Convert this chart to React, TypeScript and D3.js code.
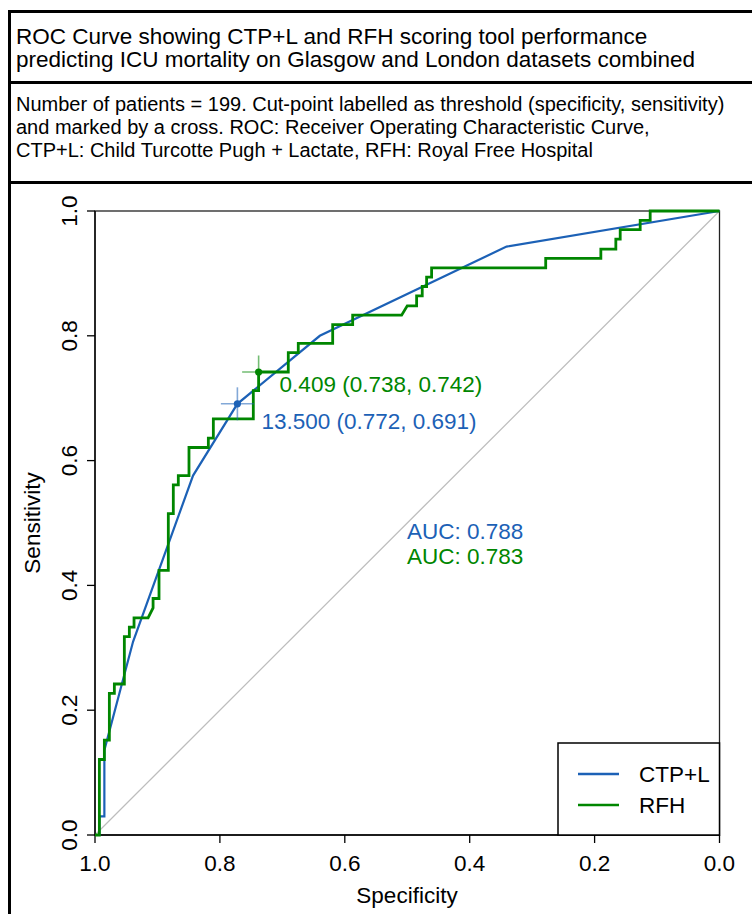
import React from "react";
import * as d3 from "d3";

const titleLines = [
  "ROC Curve showing CTP+L and RFH scoring tool performance",
  "predicting ICU mortality on Glasgow and London datasets combined",
];
const subtitleLines = [
  "Number of patients = 199. Cut-point labelled as threshold (specificity, sensitivity)",
  "and marked by a cross. ROC: Receiver Operating Characteristic Curve,",
  "CTP+L: Child Turcotte Pugh + Lactate, RFH: Royal Free Hospital",
];

const ticks = [0, 0.2, 0.4, 0.6, 0.8, 1.0];

// CTP+L curve (specificity, sensitivity)
const ctpSpec = [1, 0.993, 0.993, 0.985, 0.985, 0.939, 0.843, 0.772, 0.64, 0.341, 0];
const ctpSens = [0, 0, 0.03, 0.03, 0.136, 0.31, 0.576, 0.691, 0.8, 0.943, 1];

// RFH curve (specificity, sensitivity)
const rfhSpec = [
  1, 0.993, 0.993, 0.985, 0.985, 0.977, 0.977, 0.969, 0.969, 0.953, 0.953, 0.945, 0.945,
  0.9375, 0.9375, 0.915, 0.907, 0.907, 0.8975, 0.8975, 0.8826, 0.8826, 0.8746, 0.8746,
  0.8666, 0.8666, 0.8495, 0.8495, 0.8185, 0.8185, 0.8105, 0.8105, 0.7465, 0.7465, 0.738,
  0.738, 0.6905, 0.6905, 0.6745, 0.6745, 0.6194, 0.6194, 0.5874, 0.5874, 0.509, 0.5,
  0.485, 0.485, 0.476, 0.476, 0.469, 0.469, 0.461, 0.461, 0.2783, 0.2783, 0.19, 0.19,
  0.166, 0.166, 0.159, 0.159, 0.127, 0.127, 0.111, 0.111, 0,
];
const rfhSens = [
  0, 0, 0.121, 0.121, 0.152, 0.152, 0.227, 0.227, 0.242, 0.242, 0.318, 0.318, 0.333,
  0.333, 0.348, 0.348, 0.364, 0.379, 0.379, 0.424, 0.424, 0.515, 0.515, 0.561, 0.561,
  0.576, 0.576, 0.621, 0.621, 0.636, 0.636, 0.667, 0.667, 0.712, 0.712, 0.742, 0.742,
  0.773, 0.773, 0.788, 0.788, 0.818, 0.818, 0.833, 0.833, 0.848, 0.848, 0.864, 0.864,
  0.879, 0.879, 0.894, 0.894, 0.909, 0.909, 0.924, 0.924, 0.939, 0.939, 0.955, 0.955,
  0.97, 0.97, 0.985, 0.985, 1, 1,
];

const thresholds = [
  { name: "CTP+L", thr: "13.500", spec: 0.772, sens: 0.691, auc: "0.788", color: "#1c61b6", dx: 24, dy: 25, width: 2 },
  { name: "RFH", thr: "0.409", spec: 0.738, sens: 0.742, auc: "0.783", color: "#008600", dx: 21, dy: 20, width: 2.7 },
];

const FONT = "'Liberation Sans', Arial, Helvetica, sans-serif";

export default function App() {
  const W = 752, H = 914;
  const x = d3.scaleLinear().domain([1, 0]).range([95, 719.5]);
  const y = d3.scaleLinear().domain([0, 1]).range([835, 211]);
  const fmt = d3.format(".1f");

  const line = d3
    .line<[number, number]>()
    .x((d) => x(d[0]))
    .y((d) => y(d[1]));

  const ctpPts: [number, number][] = ctpSpec.map((s, i) => [s, ctpSens[i]]);
  const rfhPts: [number, number][] = rfhSpec.map((s, i) => [s, rfhSens[i]]);

  const cs = 16.5;

  return (
    <svg
      width={W}
      height={H}
      viewBox={`0 0 ${W} ${H}`}
      style={{ position: "absolute", left: 0, top: 0, display: "block", background: "#fff" }}
      fontFamily={FONT}
    >
      <rect x={0} y={0} width={W} height={H} fill="#fff" />
      {/* frames */}
      <rect x={9.5} y={11.5} width={W + 20} height={H + 20} fill="none" stroke="#000" strokeWidth={3} />
      <line x1={8} x2={W} y1={82.5} y2={82.5} stroke="#000" strokeWidth={3} />
      <line x1={8} x2={W} y1={182.5} y2={182.5} stroke="#000" strokeWidth={3} />

      {titleLines.map((t, i) => (
        <text key={t} x={16} y={44 + i * 23} fontSize={22.5} fill="#000">
          {t}
        </text>
      ))}
      {subtitleLines.map((t, i) => (
        <text key={t} x={16} y={111 + i * 23} fontSize={20} fill="#000">
          {t}
        </text>
      ))}

      {/* diagonal */}
      <line x1={x(1)} y1={y(0)} x2={x(0)} y2={y(1)} stroke="#bdbdbd" strokeWidth={1.3} />

      {/* plot box */}
      <rect x={x(1)} y={y(1)} width={x(0) - x(1)} height={y(0) - y(1)} fill="none" stroke="#222" strokeWidth={1.3} />

      {/* x axis */}
      <line x1={x(1)} x2={x(0)} y1={y(0)} y2={y(0)} stroke="#000" strokeWidth={1.3} />
      {ticks.map((t) => (
        <g key={"x" + t}>
          <line x1={x(t)} x2={x(t)} y1={y(0)} y2={y(0) + 8} stroke="#000" strokeWidth={1.3} />
          <text x={x(t)} y={871} fontSize={22.5} textAnchor="middle" fill="#000">
            {fmt(t)}
          </text>
        </g>
      ))}
      <text x={407} y={903} fontSize={22.5} textAnchor="middle" fill="#000">
        Specificity
      </text>

      {/* y axis */}
      <line x1={x(1)} x2={x(1)} y1={y(0)} y2={y(1)} stroke="#000" strokeWidth={1.3} />
      {ticks.map((t) => (
        <g key={"y" + t}>
          <line x1={x(1) - 8} x2={x(1)} y1={y(t)} y2={y(t)} stroke="#000" strokeWidth={1.3} />
          <text
            transform={`translate(${77},${y(t)}) rotate(-90)`}
            fontSize={22.5}
            textAnchor="middle"
            fill="#000"
          >
            {fmt(t)}
          </text>
        </g>
      ))}
      <text transform={`translate(${40},${523}) rotate(-90)`} fontSize={22.5} textAnchor="middle" fill="#000">
        Sensitivity
      </text>

      {/* curves */}
      <path d={line(ctpPts) || ""} fill="none" stroke="#1c61b6" strokeWidth={2.2} />
      <path d={line(rfhPts) || ""} fill="none" stroke="#008600" strokeWidth={2.8} />

      {/* threshold crosses and labels */}
      {thresholds.map((t) => {
        const px = x(t.spec), py = y(t.sens);
        return (
          <g key={t.name}>
            <line x1={px - cs} x2={px + cs} y1={py} y2={py} stroke={t.color} strokeOpacity={0.55} strokeWidth={1.6} />
            <line x1={px} x2={px} y1={py - cs} y2={py + cs} stroke={t.color} strokeOpacity={0.55} strokeWidth={1.6} />
            <circle cx={px} cy={py} r={3.6} fill={t.color} />
            <text x={px + t.dx} y={py + t.dy} fontSize={22.5} fill={t.color}>
              {`${t.thr} (${t.spec.toFixed(3)}, ${t.sens.toFixed(3)})`}
            </text>
          </g>
        );
      })}

      {/* AUC */}
      {thresholds.map((t, i) => (
        <text key={"auc" + t.name} x={407} y={539 + i * 25} fontSize={22.5} fill={t.color}>
          {`AUC: ${t.auc}`}
        </text>
      ))}

      {/* legend */}
      <rect x={558} y={743} width={x(0) - 558} height={y(0) - 743} fill="#fff" stroke="#000" strokeWidth={1.5} />
      {thresholds.map((t, i) => (
        <g key={"leg" + t.name}>
          <line x1={578} x2={619} y1={774 + i * 31} y2={774 + i * 31} stroke={t.color} strokeWidth={2.5} />
          <text x={639} y={782 + i * 31} fontSize={22.5} fill="#000">
            {t.name}
          </text>
        </g>
      ))}
    </svg>
  );
}
